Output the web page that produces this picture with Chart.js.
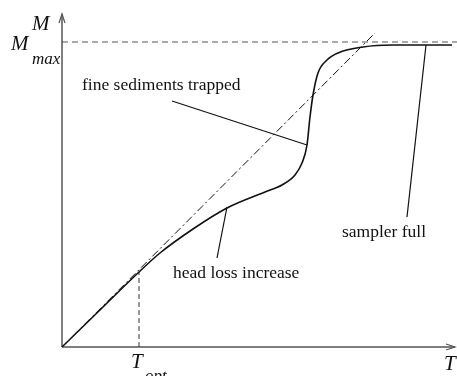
<!DOCTYPE html>
<html>
<head>
<meta charset="utf-8">
<script src="https://cdn.jsdelivr.net/npm/chart.js@4/dist/chart.umd.min.js"></script>
<style>
	html, body { margin: 0; padding: 0; background: #fff; }
	#wrap { width: 457px; height: 376px; }
</style>
</head>
<body>
<div id="wrap"><canvas id="chart" width="457" height="376"></canvas></div>
<script>
// mass collected M against sampling time T
const curveT = [0, 40, 77, 98, 131, 165, 203, 220, 233, 240, 245, 248, 251, 256, 265, 276, 301, 330, 390];
const curveM = [0, 39, 75, 94, 118, 139, 155, 162, 172, 184, 202, 230, 252, 274, 287, 294, 300, 302, 302];

// ideal linear filling
const idealT = [0, 313];
const idealM = [0, 314];

const mMax = 305;
const tOpt = 77;
const tOptM = 75;

// leader lines for the notes: [T, M] pairs
const headLossLeader = [[165, 140], [155, 89]];
const finesLeader = [[110, 246], [245, 202]];
const fullLeader = [[345, 130], [364, 302]];

const xMax = 395;
const yMax = 333;

const serif = '"Liberation Serif", "Times New Roman", serif';

function pts(xs, ys) {
	return xs.map((x, i) => ({ x, y: ys[i] }));
}

function pairPts(pairs) {
	return pairs.map(([x, y]) => ({ x, y }));
}

function lineSet(data, opts) {
	return Object.assign({
		data,
		showLine: true,
		pointRadius: 0,
		borderColor: '#111',
		borderWidth: 1.2,
		fill: false,
		clip: false,
	}, opts);
}

function arrowHead(ctx, x, y, dir) {
	// open V arrow pointing up or right
	ctx.beginPath();
	if (dir === 'up') {
		ctx.moveTo(x - 3, y + 9);
		ctx.lineTo(x, y);
		ctx.lineTo(x + 3, y + 9);
	} else {
		ctx.moveTo(x - 9, y - 3);
		ctx.lineTo(x, y);
		ctx.lineTo(x - 9, y + 3);
	}
	ctx.stroke();
}

const decorations = {
	id: 'decorations',
	beforeDatasetsDraw(chart) {
		const { ctx, scales: { x, y } } = chart;
		const x0 = x.getPixelForValue(0);
		const y0 = y.getPixelForValue(0);
		ctx.save();
		ctx.strokeStyle = '#555';
		ctx.lineWidth = 1.5;
		ctx.beginPath();
		ctx.moveTo(x0, y0);
		ctx.lineTo(x0, y.getPixelForValue(yMax));
		ctx.moveTo(x0, y0);
		ctx.lineTo(x.getPixelForValue(393), y0);
		ctx.stroke();
		ctx.lineWidth = 1.2;
		arrowHead(ctx, x0, y.getPixelForValue(yMax), 'up');
		arrowHead(ctx, x.getPixelForValue(393), y0, 'right');
		ctx.restore();
	},
	afterDraw(chart) {
		const { ctx } = chart;
		ctx.save();
		ctx.fillStyle = '#111';
		ctx.textBaseline = 'alphabetic';

		ctx.font = `17.5px ${serif}`;
		ctx.fillText('fine sediments trapped', 82, 90);
		ctx.fillText('head loss increase', 173, 278);
		ctx.fillText('sampler full', 342, 237);

		ctx.font = `italic 21px ${serif}`;
		ctx.fillText('M', 32, 30);
		ctx.fillText('M', 11, 50);
		ctx.fillText('T', 131, 368);
		ctx.fillText('T', 444, 370);
		ctx.font = `italic 17px ${serif}`;
		ctx.fillText('max', 32, 64);
		ctx.fillText('opt', 145, 381);
		ctx.restore();
	},
};

new Chart(document.getElementById('chart'), {
	type: 'scatter',
	data: {
		datasets: [
			lineSet(pts(curveT, curveM), { borderWidth: 1.6, cubicInterpolationMode: 'monotone' }),
			lineSet(pts(idealT, idealM), { borderWidth: 1, borderDash: [8, 3, 2, 3] }),
			lineSet([{ x: 0, y: mMax }, { x: xMax, y: mMax }], { borderColor: '#555', borderWidth: 1.2, borderDash: [6, 4] }),
			lineSet([{ x: tOpt, y: 0 }, { x: tOpt, y: tOptM }], { borderColor: '#333', borderWidth: 1, borderDash: [5, 3] }),
			lineSet(pairPts(headLossLeader)),
			lineSet(pairPts(finesLeader)),
			lineSet(pairPts(fullLeader)),
		],
	},
	options: {
		responsive: false,
		animation: false,
		layout: { padding: { left: 62, right: 0, top: 14, bottom: 29 } },
		plugins: {
			legend: { display: false },
			tooltip: { enabled: false },
		},
		scales: {
			x: { type: 'linear', min: 0, max: xMax, display: false },
			y: { type: 'linear', min: 0, max: yMax, display: false },
		},
	},
	plugins: [decorations],
});
</script>
</body>
</html>
